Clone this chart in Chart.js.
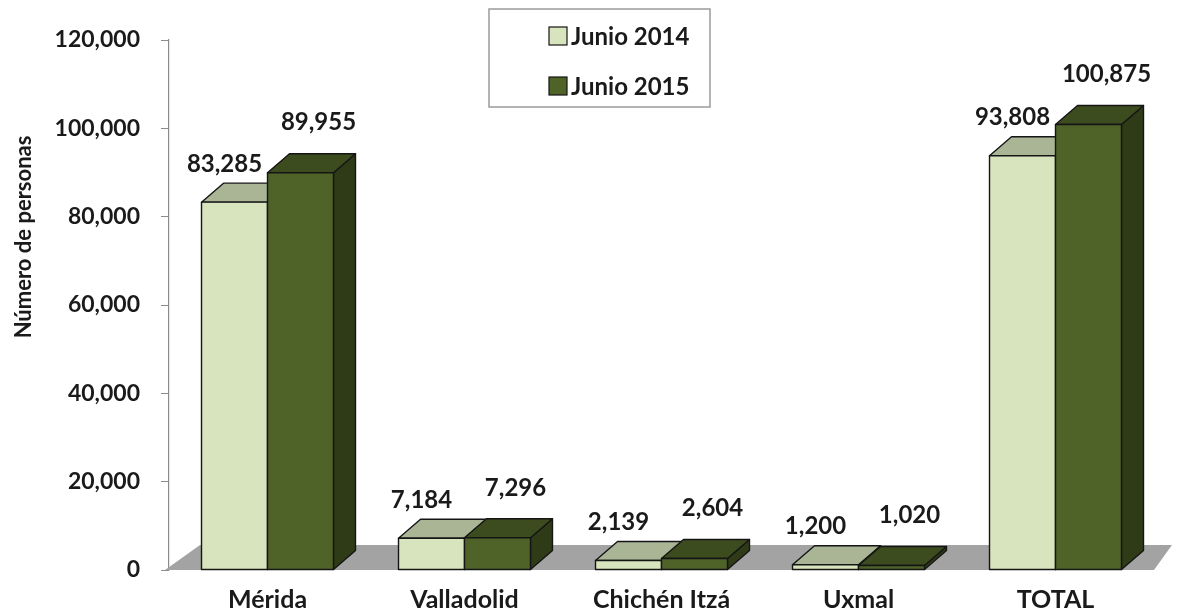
<!DOCTYPE html>
<html>
<head>
<meta charset="utf-8">
<script src="https://cdn.jsdelivr.net/npm/chart.js@4.4.1/dist/chart.umd.min.js"></script>
<style>
    html, body { margin: 0; padding: 0; background: #fff; }
    #wrap { width: 1182px; height: 614px; position: relative; }
</style>
</head>
<body>
<div id="wrap"><canvas id="visitorsChart"></canvas></div>
<script>
const categories = ['Mérida', 'Valladolid', 'Chichén Itzá', 'Uxmal', 'TOTAL'];
const junio2014 = [83285, 7184, 2139, 1200, 93808];
const junio2015 = [89955, 7296, 2604, 1020, 100875];
const yTicks = [0, 20000, 40000, 60000, 80000, 100000, 120000];
const seriesNames = ['Junio 2014', 'Junio 2015'];

const FONT = 'Lato';
const DX = 22, DY = -19;

// front / top / side colours per series
const faces = [
    { front: '#d7e4bd', top: '#a9b594', side: '#98a482' },
    { front: '#4f6228', top: '#3d4c1f', side: '#2f3b17' }
];

function poly(ctx, pts, fill) {
    ctx.beginPath();
    ctx.moveTo(pts[0][0], pts[0][1]);
    for (let i = 1; i < pts.length; i++) ctx.lineTo(pts[i][0], pts[i][1]);
    ctx.closePath();
    ctx.fillStyle = fill;
    ctx.fill();
    ctx.stroke();
}

const floorPlugin = {
    id: 'floor',
    beforeDatasetsDraw(chart) {
        const ctx = chart.ctx;
        const area = chart.chartArea;
        const y0 = chart.scales.y.getPixelForValue(0);
        ctx.save();
        ctx.beginPath();
        ctx.moveTo(area.left - 4, y0);
        ctx.lineTo(area.right, y0);
        ctx.lineTo(area.right + 18, y0 - 25);
        ctx.lineTo(area.left + 31, y0 - 25);
        ctx.closePath();
        ctx.fillStyle = '#a3a3a3';
        ctx.fill();
        ctx.restore();
    }
};

const bars3dPlugin = {
    id: 'bars3d',
    afterDatasetsDraw(chart) {
        const ctx = chart.ctx;
        const metas = [chart.getDatasetMeta(0), chart.getDatasetMeta(1)];
        ctx.save();
        ctx.lineWidth = 1.4;
        ctx.strokeStyle = '#151515';
        ctx.lineJoin = 'round';
        for (let i = 0; i < categories.length; i++) {
            metas.forEach(function (meta, d) {
                const p = meta.data[i].getProps(['x', 'y', 'base', 'width'], true);
                const l = p.x - p.width / 2, r = p.x + p.width / 2;
                const c = faces[d];
                poly(ctx, [[r, p.base], [r + DX, p.base + DY], [r + DX, p.y + DY], [r, p.y]], c.side);
                poly(ctx, [[l, p.y], [l + DX, p.y + DY], [r + DX, p.y + DY], [r, p.y]], c.top);
                poly(ctx, [[l, p.y], [r, p.y], [r, p.base], [l, p.base]], c.front);
            });
        }

        // value labels
        ctx.fillStyle = '#1a1a1a';
        ctx.font = 'bold 24px ' + FONT;
        ctx.textAlign = 'center';
        ctx.textBaseline = 'middle';
        metas.forEach(function (meta, d) {
            const values = d === 0 ? junio2014 : junio2015;
            meta.data.forEach(function (bar, i) {
                const p = bar.getProps(['x', 'y'], true);
                const lx = d === 0 ? p.x - 10 : p.x + 18;
                const ly = d === 0 ? p.y - 38 : p.y - 50;
                ctx.fillText(values[i].toLocaleString('en-US'), lx, ly);
            });
        });
        ctx.restore();
    },
    afterDraw(chart) {
        const ctx = chart.ctx;
        ctx.save();

        // y axis title
        ctx.translate(24, 237);
        ctx.rotate(-Math.PI / 2);
        ctx.fillStyle = '#1a1a1a';
        ctx.font = 'bold 22px ' + FONT;
        ctx.textAlign = 'center';
        ctx.textBaseline = 'middle';
        ctx.fillText('Número de personas', 0, 0);
        ctx.setTransform(1, 0, 0, 1, 0, 0);

        // legend box
        ctx.strokeStyle = '#9a9a9a';
        ctx.lineWidth = 1.5;
        ctx.strokeRect(489, 9, 221, 98);
        ctx.font = 'bold 24px ' + FONT;
        ctx.textAlign = 'left';
        seriesNames.forEach(function (name, d) {
            const cy = 36 + d * 50;
            ctx.fillStyle = faces[d].front;
            ctx.strokeStyle = '#151515';
            ctx.lineWidth = 1.2;
            ctx.fillRect(549, cy - 9, 18, 18);
            ctx.strokeRect(549, cy - 9, 18, 18);
            ctx.fillStyle = '#1a1a1a';
            ctx.fillText(name, 571, cy + 1);
        });
        ctx.restore();
    }
};

function initChart() {
    const ctx = document.getElementById('visitorsChart');

    new Chart(ctx, {
        type: 'bar',
        data: {
            labels: categories,
            datasets: [{
                label: seriesNames[0],
                data: junio2014,
                backgroundColor: faces[0].front
            }, {
                label: seriesNames[1],
                data: junio2015,
                backgroundColor: faces[1].front
            }]
        },
        options: {
            responsive: true,
            maintainAspectRatio: false,
            animation: false,
            layout: {
                padding: { top: 40, right: 28, bottom: 0, left: 0 }
            },
            datasets: {
                bar: {
                    categoryPercentage: 0.67,
                    barPercentage: 1.0
                }
            },
            scales: {
                x: {
                    afterFit: function (scale) { scale.height = 44; },
                    grid: { display: false, drawTicks: false },
                    border: { display: false },
                    ticks: {
                        color: '#1a1a1a',
                        padding: 15,
                        font: { family: FONT, size: 25, weight: 'bold' }
                    }
                },
                y: {
                    min: 0,
                    max: 120000,
                    afterFit: function (scale) { scale.width = 169; },
                    afterBuildTicks: function (scale) {
                        scale.ticks = yTicks.map(v => ({ value: v }));
                    },
                    grid: {
                        drawOnChartArea: false,
                        tickLength: 8,
                        color: '#8c8c8c'
                    },
                    border: { display: true, color: '#8c8c8c', width: 1.2 },
                    ticks: {
                        color: '#1a1a1a',
                        padding: 21,
                        font: { family: FONT, size: 23, weight: 'bold' },
                        callback: function (value) {
                            return value.toLocaleString('en-US');
                        }
                    }
                }
            },
            plugins: {
                legend: { display: false },
                tooltip: { enabled: false }
            }
        },
        plugins: [floorPlugin, bars3dPlugin]
    });
}

document.addEventListener('DOMContentLoaded', initChart);
</script>
</body>
</html>
